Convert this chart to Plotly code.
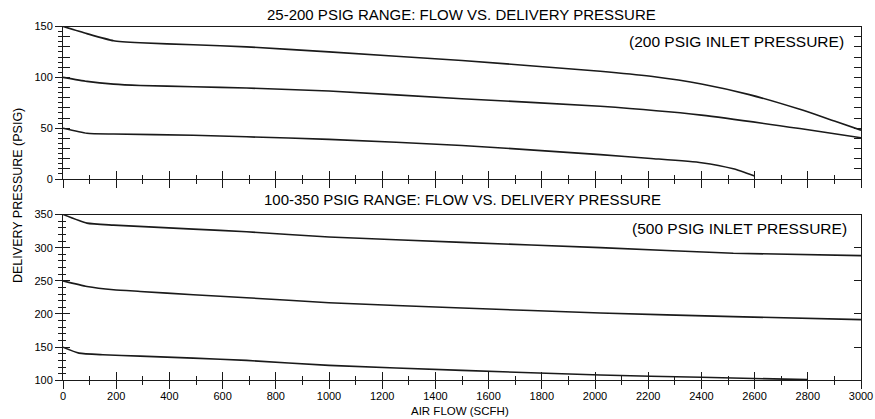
import plotly.graph_objects as go

# ---------------- data ----------------
x_ticks = [0, 200, 400, 600, 800, 1000, 1200, 1400, 1600, 1800, 2000, 2200, 2400, 2600, 2800, 3000]
top_yticks = [0, 50, 100, 150]
bot_yticks = [100, 150, 200, 250, 300, 350]

# 25-200 PSIG range (200 psig inlet)
top_flow_150 = [0, 90, 190, 290, 490, 690, 1000, 1500, 2020, 2210, 2400, 2580, 2770, 2900, 3000]
top_pres_150 = [150, 143, 136, 134, 132, 130, 125, 116.5, 106, 101, 93.5, 83, 68.5, 57, 48]
top_flow_100 = [0, 90, 190, 290, 490, 690, 1000, 1500, 2020, 2400, 2770, 3000]
top_pres_100 = [100, 96, 93.3, 92, 90.7, 89.5, 86.5, 79, 71.5, 62.8, 49.6, 40.5]
top_flow_50 = [0, 90, 190, 490, 690, 1000, 1500, 2020, 2210, 2400, 2520, 2600]
top_pres_50 = [50, 45, 44.2, 43, 41.5, 39, 33, 24, 20.2, 16, 10, 3]

# 100-350 PSIG range (500 psig inlet)
bot_flow_350 = [0, 90, 190, 490, 690, 1000, 1500, 2020, 2520, 3000]
bot_pres_350 = [350, 337, 334, 328, 324, 316, 308, 300, 291.5, 288]
bot_flow_250 = [0, 90, 190, 290, 490, 690, 1000, 1500, 2020, 2520, 3000]
bot_pres_250 = [250, 241.5, 236.5, 234, 229, 224.5, 217, 209, 201.5, 196, 191.5]
bot_flow_150 = [0, 60, 150, 290, 490, 690, 1000, 1500, 2020, 2400, 2800]
bot_pres_150 = [150, 141, 138.5, 136.5, 133.5, 130, 122.5, 115, 108, 104.5, 101]

title_top = "25-200 PSIG RANGE: FLOW VS. DELIVERY PRESSURE"
title_bot = "100-350 PSIG RANGE: FLOW VS. DELIVERY PRESSURE"
note_top = "(200 PSIG INLET PRESSURE)"
note_bot = "(500 PSIG INLET PRESSURE)"
y_title = "DELIVERY PRESSURE (PSIG)"
x_title = "AIR FLOW (SCFH)"

# ---------------- figure ----------------
INK = "#1a1a1a"
FONT = "Liberation Sans, Arial, sans-serif"
line_style = dict(color=INK, width=1.6, shape="spline", smoothing=0.5)

fig = go.Figure()
# Each curve sits on one of the (identically-ranged) axis pairs so the overlay
# axes carrying the inside / right-hand ticks are all drawn.
top_series = [(top_flow_150, top_pres_150, "x", "y"),
              (top_flow_100, top_pres_100, "x3", "y3"),
              (top_flow_50, top_pres_50, "x", "y5")]
bot_series = [(bot_flow_350, bot_pres_350, "x2", "y2"),
              (bot_flow_250, bot_pres_250, "x4", "y4"),
              (bot_flow_150, bot_pres_150, "x2", "y6")]
for fx, fy, xa, ya in top_series + bot_series:
    fig.add_trace(go.Scatter(x=fx, y=fy, mode="lines", line=line_style, xaxis=xa, yaxis=ya,
                             showlegend=False, hoverinfo="skip"))

H = 419.0
top_dom = [1 - 179 / H, 1 - 26.5 / H]
bot_dom = [1 - 380.3 / H, 1 - 214.5 / H]

ax_common = dict(showgrid=False, zeroline=False, showline=True, linecolor=INK, linewidth=1,
                 automargin=False,
                 tickcolor=INK, tickwidth=1, tickfont=dict(family=FONT, size=11, color="black"))

xr = [0, 3000]
layout = dict(
    width=875, height=419,
    margin=dict(l=63, r=14, t=0, b=0, autoexpand=False),
    paper_bgcolor="white", plot_bgcolor="white",
    font=dict(family=FONT, color="black"),
    # top panel
    xaxis=dict(ax_common, domain=[0, 1], anchor="y", range=xr, tickvals=x_ticks, showticklabels=False,
               ticks="outside", ticklen=8, mirror=True,
               minor=dict(dtick=100, tick0=0, ticks="outside", ticklen=4, tickcolor=INK)),
    xaxis3=dict(ax_common, overlaying="x", anchor="y3", side="bottom", range=xr, tickvals=x_ticks,
                showticklabels=False, ticks="inside", ticklen=8,
                minor=dict(dtick=100, tick0=0, ticks="inside", ticklen=4, tickcolor=INK)),
    yaxis=dict(ax_common, domain=top_dom, anchor="x", range=[0, 150], tickvals=top_yticks,
               ticks="outside", ticklen=7, mirror=True,
               minor=dict(dtick=5, tick0=0, ticks="outside", ticklen=4, tickcolor=INK)),
    yaxis3=dict(ax_common, overlaying="y", anchor="x3", side="left", range=[0, 150], dtick=10, tick0=0,
                showticklabels=False, ticks="inside", ticklen=7),
    yaxis5=dict(ax_common, overlaying="y", anchor="x", side="right", range=[0, 150], dtick=10, tick0=0,
                showticklabels=False, ticks="inside", ticklen=7),
    # bottom panel
    xaxis2=dict(ax_common, domain=[0, 1], anchor="y2", range=xr, tickvals=x_ticks,
                ticks="outside", ticklen=8, mirror=True, ticklabelstandoff=-3,
                minor=dict(dtick=100, tick0=0, ticks="outside", ticklen=4, tickcolor=INK)),
    xaxis4=dict(ax_common, overlaying="x2", anchor="y4", side="bottom", range=xr, tickvals=x_ticks,
                showticklabels=False, ticks="inside", ticklen=8,
                minor=dict(dtick=100, tick0=0, ticks="inside", ticklen=4, tickcolor=INK)),
    yaxis2=dict(ax_common, domain=bot_dom, anchor="x2", range=[100, 350], tickvals=bot_yticks,
                ticks="outside", ticklen=7, mirror=True,
                minor=dict(dtick=10, tick0=100, ticks="outside", ticklen=4, tickcolor=INK)),
    yaxis4=dict(ax_common, overlaying="y2", anchor="x4", side="left", range=[100, 350], dtick=50, tick0=100,
                showticklabels=False, ticks="inside", ticklen=7,
                minor=dict(dtick=10, tick0=100, ticks="inside", ticklen=3, tickcolor=INK)),
    yaxis6=dict(ax_common, overlaying="y2", anchor="x2", side="right", range=[100, 350], dtick=50, tick0=100,
                showticklabels=False, ticks="inside", ticklen=7),
)
fig.update_layout(**layout)

def px2x(p):
    return (p - 63) / 798.0

def py2y(p):
    return 1 - p / H

ann = [
    dict(text=title_top, x=px2x(461), y=py2y(14), size=15, xanchor="center", angle=0),
    dict(text=title_bot, x=px2x(462), y=py2y(199), size=15, xanchor="center", angle=0),
    dict(text=note_top, x=px2x(846), y=py2y(41), size=15.5, xanchor="right", angle=0),
    dict(text=note_bot, x=px2x(849), y=py2y(228), size=15.5, xanchor="right", angle=0),
    dict(text=x_title, x=px2x(460), y=py2y(411), size=11.5, xanchor="center", angle=0),
    dict(text=y_title, x=px2x(18), y=py2y(196), size=12.5, xanchor="center", angle=-90),
]
for a in ann:
    fig.add_annotation(text=a["text"], x=a["x"], y=a["y"], xref="paper", yref="paper",
                       xanchor=a["xanchor"], yanchor="middle", showarrow=False, textangle=a["angle"],
                       font=dict(family=FONT, size=a["size"], color="black"))

fig.write_html("out.html", config={"displayModeBar": False},
               post_script="document.body.style.margin='0';document.body.style.overflow='hidden';")
